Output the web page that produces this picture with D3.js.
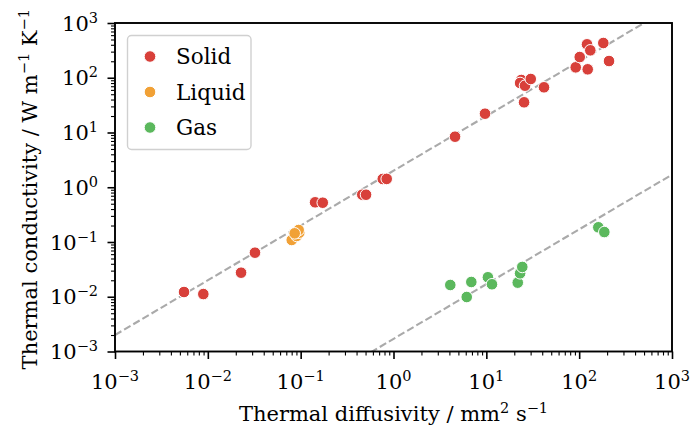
<!DOCTYPE html>
<html><head><meta charset="utf-8">
<script src="https://cdn.jsdelivr.net/npm/d3@7"></script>
<style>body{margin:0;background:#fff}svg{display:block}text{font-family:"DejaVu Serif",serif;fill:#000}</style>
</head><body><svg id="c" width="691" height="430"></svg>
<script>
// Data: [thermal diffusivity (mm^2/s), thermal conductivity (W/m/K)]
const solidX = [0.00554,0.00894,0.0228,0.0322,0.143,0.173,0.461,0.506,0.766,0.845,4.60,9.68,25.5,23.8,23.1,26.1,30.1,41.8,91.8,101.4,121.5,131.8,123.6,182,209.7];
const solidY = [0.0122,0.0112,0.0275,0.0638,0.531,0.522,0.731,0.73,1.416,1.42,8.38,22.05,35.6,91.0,80.2,71.6,94.9,66.9,155,239,408,317,142.6,431,202];
const liquidX = [0.0801,0.0906,0.0966,0.0952,0.0862];
const liquidY = [0.1088,0.1288,0.148,0.1656,0.144];
const gasX = [4.09,6.15,6.89,10.4,11.5,21.8,23.1,24.4,160.8,186.6];
const gasY = [0.0164,0.00989,0.0186,0.0227,0.0169,0.0181,0.0268,0.0350,0.1856,0.152];
const seriesNames = ["Solid","Liquid","Gas"];
const seriesColors = ["#d8403a","#f1a136","#5bb85d"];
const fitCoefs = [2.0, 0.0017]; // k = c * alpha
const tickExps = [-3,-2,-1,0,1,2,3];

const svg = d3.select("#c");
const L=115,R=672,T=23,B=351.5;
const x = d3.scaleLog().domain([1e-3,1e3]).range([L,R]);
const y = d3.scaleLog().domain([1e-3,1e3]).range([B,T]);

svg.append("defs").append("clipPath").attr("id","clip").append("rect")
  .attr("x",L).attr("y",T).attr("width",R-L).attr("height",B-T);

// fit lines
fitCoefs.forEach(c=>{
  const xs=[1e-3,1e3];
  svg.append("line").attr("clip-path","url(#clip)")
    .attr("x1",x(xs[0])).attr("y1",y(c*xs[0])).attr("x2",x(xs[1])).attr("y2",y(c*xs[1]))
    .attr("stroke","#aaaaaa").attr("stroke-width",2.1).attr("stroke-dasharray","7.4,3.2");
});

// points
const all=[[solidX,solidY],[liquidX,liquidY],[gasX,gasY]];
all.forEach(([xs,ys],i)=>{
  svg.append("g").selectAll("circle").data(xs.map((v,j)=>[v,ys[j]])).join("circle")
    .attr("cx",d=>x(d[0])).attr("cy",d=>y(d[1])).attr("r",5.8)
    .attr("fill",seriesColors[i]).attr("stroke","#fff").attr("stroke-width",1);
});

// axes with ticks
const isMajor = d=>{const l=Math.log10(d);return Math.abs(l-Math.round(l))<1e-9;};
const allTicks = d3.range(-3,3).flatMap(e=>d3.range(1,10).map(m=>m*Math.pow(10,e))).concat([1e3]);
const gx = svg.append("g").attr("transform",`translate(0,${B})`).call(d3.axisBottom(x).tickValues(allTicks).tickSize(4).tickFormat(""));
gx.select(".domain").remove();
gx.selectAll(".tick line").attr("stroke","#000")
  .attr("y2",d=>isMajor(d)?7.5:4)
  .attr("stroke-width",d=>isMajor(d)?1.6:1.1);
const gy = svg.append("g").attr("transform",`translate(${L},0)`).call(d3.axisLeft(y).tickValues(allTicks).tickSize(4).tickFormat(""));
gy.select(".domain").remove();
gy.selectAll(".tick line").attr("stroke","#000")
  .attr("x2",d=>isMajor(d)?-7.5:-4)
  .attr("stroke-width",d=>isMajor(d)?1.6:1.1);

// frame
svg.append("rect").attr("x",L).attr("y",T).attr("width",R-L).attr("height",B-T)
  .attr("fill","none").attr("stroke","#000").attr("stroke-width",1.9);

function pow10(t,e){
  t.text("");
  t.append("tspan").text("10");
  t.append("tspan").attr("dy",-8).attr("font-size","14.5px").text(e<0?"\u2212"+(-e):""+e);
}
// tick labels
tickExps.forEach(e=>{
  svg.append("text").attr("x",x(Math.pow(10,e))).attr("y",389).attr("text-anchor","middle")
    .attr("font-size","21px").call(t=>pow10(t,e));
  svg.append("text").attr("x",98).attr("y",y(Math.pow(10,e))+7.5).attr("text-anchor","end")
    .attr("font-size","21px").call(t=>pow10(t,e));
});

// axis labels
const xl = svg.append("text").attr("x",(L+R)/2).attr("y",421).attr("text-anchor","middle").attr("font-size","21px");
xl.append("tspan").text("Thermal diffusivity / mm");
xl.append("tspan").attr("dy",-8).attr("font-size","14.5px").text("2");
xl.append("tspan").attr("dy",8).text(" s");
xl.append("tspan").attr("dy",-8).attr("font-size","14.5px").text("\u22121");

const yl = svg.append("text").attr("transform",`translate(37,${(T+B)/2+2}) rotate(-90)`).attr("text-anchor","middle").attr("font-size","21px");
yl.append("tspan").text("Thermal conductivity / W m");
yl.append("tspan").attr("dy",-8).attr("font-size","14.5px").text("\u22121");
yl.append("tspan").attr("dy",8).text(" K");
yl.append("tspan").attr("dy",-8).attr("font-size","14.5px").text("\u22121");

// legend
const lg = svg.append("g");
lg.append("rect").attr("x",127.5).attr("y",35.5).attr("width",123.5).attr("height",114).attr("rx",4)
  .attr("fill","#fff").attr("fill-opacity",0.8).attr("stroke","#d0d0d0").attr("stroke-width",1.4);
seriesNames.forEach((n,i)=>{
  const cy = 56.5 + i*35.5;
  lg.append("circle").attr("cx",150).attr("cy",cy).attr("r",5.8).attr("fill",seriesColors[i]).attr("stroke","#fff").attr("stroke-width",1);
  lg.append("text").attr("x",176).attr("y",cy+7.5).attr("font-size","21.5px").text(n);
});
</script></body></html>
